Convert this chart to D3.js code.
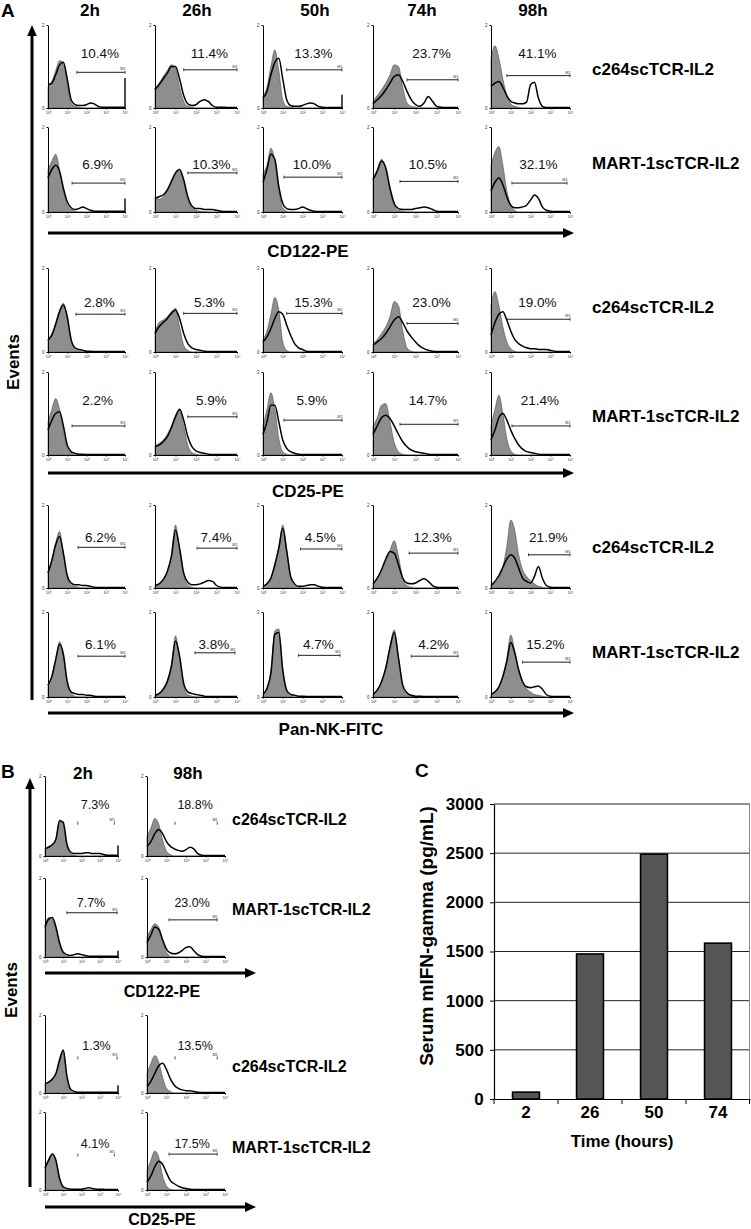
<!DOCTYPE html>
<html><head><meta charset="utf-8">
<script src="https://cdn.jsdelivr.net/npm/d3@7"></script>
<style>
body{margin:0;background:#fff;}
svg{display:block;font-family:"Liberation Sans",Arial,Helvetica,sans-serif;}
</style></head><body>
<svg id="fig" width="751" height="1229"></svg>
<script>
// ---------------- DATA ----------------
const timepointsA = ["2h","26h","50h","74h","98h"];
const timepointsB = ["2h","98h"];
const constructsA = ["c264scTCR-IL2","MART-1scTCR-IL2","c264scTCR-IL2","MART-1scTCR-IL2","c264scTCR-IL2","MART-1scTCR-IL2"];
const constructsB = ["c264scTCR-IL2","MART-1scTCR-IL2","c264scTCR-IL2","MART-1scTCR-IL2"];
const markersA = ["CD122-PE","CD25-PE","Pan-NK-FITC"];
const markersB = ["CD122-PE","CD25-PE"];
const logTickLabels = ["10\u2070","10\u00b9","10\u00b2","10\u00b3","10\u2074"];
const logTickValues = [0,1,2,3,4];
const binDecades = [0,0.2,0.4,0.6,0.8,1.0,1.2,1.4,1.6,1.8,2.0,2.2,2.4,2.6,2.8,3.0,3.2,3.4,3.6,3.8,4.0];
const yMaxLabel = "2";

const pctA = [
 ["10.4%","11.4%","13.3%","23.7%","41.1%"],
 ["6.9%","10.3%","10.0%","10.5%","32.1%"],
 ["2.8%","5.3%","15.3%","23.0%","19.0%"],
 ["2.2%","5.9%","5.9%","14.7%","21.4%"],
 ["6.2%","7.4%","4.5%","12.3%","21.9%"],
 ["6.1%","3.8%","4.7%","4.2%","15.2%"]];
const gateStartA = [
 [1.5,1.4,1.2,1.6,0.8],[1.25,1.6,1.06,1.27,1.06],[1.45,1.4,1.2,1.6,0.8],
 [1.25,1.6,1.06,1.27,1.06],[1.56,2.05,1.9,1.7,1.9],[1.56,1.95,1.8,1.8,1.6]];
const gateEndA = [
 [4,4,4,4,4],[4,4,4,4,3.85],[4,4,4,4,4],[4,4,4,4,4],[4,4,4,4,4],[4,3.9,3.9,4,4]];
const gateLevelA = [
 [43,46,46,34,39],[34,46,41,36,34],[45,46,46,34,39],
 [35,46,42,37,35],[49,48,47,42,40],[48,52,49,48,41]];
const spikeA = [[36,0,16,0,0],[16,0,0,0,0],[0,0,0,0,0],[0,0,0,0,0],[0,0,0,0,0],[0,0,0,0,0]];

// control (grey, filled) histograms, % of axis height per bin
const grayA = [
 [[25,32,45,57,55,30,6,2,1,0,0,0,0,0,0,0,0,0,0,0,0],
  [24,30,38,45,52,48,25,8,2,1,0,0,0,0,0,0,0,0,0,0,0],
  [14,25,50,70,45,10,2,1,0,0,0,0,0,0,0,0,0,0,0,0,0],
  [8,15,22,30,40,52,50,25,6,2,1,0,0,0,0,0,0,0,0,0,0],
  [60,75,60,35,15,5,2,1,0,0,0,0,0,0,0,0,0,0,0,0,0]],
 [[50,60,68,50,25,8,3,1,0,0,0,0,0,0,0,0,0,0,0,0,0],
  [18,15,18,25,35,45,48,35,15,5,2,1,0.5,0,0,0,0,0,0,0,0],
  [45,55,75,60,25,5,1,0,0,0,0,0,0,0,0,0,0,0,0,0,0],
  [40,50,62,50,25,8,2,1,0,0,0,0,0,0,0,0,0,0,0,0,0],
  [55,70,77,55,25,8,2,0,0,0,0,0,0,0,0,0,0,0,0,0,0]],
 [[15,22,35,50,58,40,12,3,1,0,0,0,0,0,0,0,0,0,0,0,0],
  [25,35,38,42,48,52,30,8,2,0,0,0,0,0,0,0,0,0,0,0,0],
  [15,25,45,65,50,12,2,0,0,0,0,0,0,0,0,0,0,0,0,0,0],
  [10,15,22,30,42,60,55,25,5,1,0,0,0,0,0,0,0,0,0,0,0],
  [55,72,55,30,12,4,1,0,0,0,0,0,0,0,0,0,0,0,0,0,0]],
 [[40,55,68,55,30,8,2,0,0,0,0,0,0,0,0,0,0,0,0,0,0],
  [12,14,18,25,35,48,55,35,12,3,1,0,0,0,0,0,0,0,0,0,0],
  [35,55,75,55,20,4,1,0,0,0,0,0,0,0,0,0,0,0,0,0,0],
  [35,45,60,62,40,15,4,1,0,0,0,0,0,0,0,0,0,0,0,0,0],
  [35,55,72,50,20,5,1,0,0,0,0,0,0,0,0,0,0,0,0,0,0]],
 [[20,35,55,68,40,12,4,2,1,0,0,0,0,0,0,0,0,0,0,0,0],
  [3,5,10,20,40,76,45,15,4,1,0,0,0,0,0,0,0,0,0,0,0],
  [2,5,12,28,50,76,45,12,3,1,0,0,0,0,0,0,0,0,0,0,0],
  [5,10,20,32,45,57,38,12,3,1,0,0,0,0,0,0,0,0,0,0,0],
  [3,6,12,25,50,82,70,40,22,14,9,5,2,1,0,0,0,0,0,0,0]],
 [[15,25,45,65,50,15,4,1,0,0,0,0,0,0,0,0,0,0,0,0,0],
  [2,4,10,20,38,72,45,12,3,1,0,0,0,0,0,0,0,0,0,0,0],
  [3,10,30,78,80,30,6,1,0,0,0,0,0,0,0,0,0,0,0,0,0],
  [3,8,18,35,60,79,45,12,3,1,0,0,0,0,0,0,0,0,0,0,0],
  [3,6,12,25,45,73,55,32,18,10,6,3,2,1,0,0,0,0,0,0,0]]];

// treated (black line) histograms
const blackA = [
 [[28,30,40,52,55,35,10,4,3,3,4,6,5,2,1,1,1,1,1,1,1],
  [22,28,35,42,50,50,35,15,5,3,4,8,10,8,3,1,1,1,0.5,0.5,0.5],
  [12,20,40,55,60,35,10,3,2,2,3,5,6,5,2,1,0.5,0.5,0.5,0.5,0.5],
  [5,10,15,22,30,38,40,32,20,10,4,2,6,14,8,2,1,0.5,0.5,0.5,0.5],
  [26,30,32,25,15,8,6,5,5,7,28,31,12,2,0.5,0.5,0.5,0.5,0.5,0.5,0.5]],
 [[40,50,55,48,28,12,5,3,4,6,4,2,1,1,1,1,1,1,1,1,1],
  [16,18,20,26,36,46,50,38,18,7,4,4,3,3,3,2,1,0.5,0.5,0.5,0.5],
  [35,50,68,62,30,10,4,3,3,4,6,4,2,1,0.5,0.5,0.5,0.5,0.5,0.5,0.5],
  [38,48,60,52,28,10,4,3,3,3,4,5,6,5,3,1,0.5,0.5,0.5,0.5,0.5],
  [25,35,40,32,18,8,5,5,6,8,14,20,16,6,2,1,0.5,0.5,0.5,0.5,0.5]],
 [[14,20,33,48,56,42,15,5,3,2,1,1,0.5,0.5,0.5,0.5,0.5,0.5,0.5,0.5,0.5],
  [22,30,35,40,46,50,40,22,10,5,3,2,1,0.5,0.5,0.5,0.5,0.5,0.5,0.5,0.5],
  [12,18,28,40,48,45,32,20,10,5,3,1,0.5,0.5,0.5,0.5,0.5,0.5,0.5,0.5,0.5],
  [8,12,16,22,30,38,42,35,25,18,12,7,4,2,1,0.5,0.5,0.5,0.5,0.5,0.5],
  [20,35,45,48,38,25,15,10,7,5,4,4,3,3,3,2,1,0.5,0.5,0.5,0.5]],
 [[30,42,50,52,35,12,4,2,1,1,0.5,0.5,0.5,0.5,0.5,0.5,0.5,0.5,0.5,0.5,0.5],
  [10,12,16,22,33,46,55,42,22,10,5,3,2,1,0.5,0.5,0.5,0.5,0.5,0.5,0.5],
  [25,40,60,60,40,18,8,4,2,1,0.5,0.5,0.5,0.5,0.5,0.5,0.5,0.5,0.5,0.5,0.5],
  [25,35,45,48,44,35,25,16,10,6,4,3,2,1,0.5,0.5,0.5,0.5,0.5,0.5,0.5],
  [18,30,45,50,42,30,20,12,7,4,3,2,1,0.5,0.5,0.5,0.5,0.5,0.5,0.5,0.5]],
 [[18,33,52,62,42,15,6,4,4,3,3,2,1,0.5,0.5,0.5,0.5,0.5,0.5,0.5,0.5],
  [3,5,10,20,38,70,48,18,7,4,4,5,7,9,8,3,1,0.5,0.5,0.5,0.5],
  [2,5,12,28,48,72,45,14,5,2,2,3,4,4,2,1,0.5,0.5,0.5,0.5,0.5],
  [5,12,22,35,44,42,28,12,6,5,6,9,11,8,3,1,0.5,0.5,0.5,0.5,0.5],
  [3,8,15,25,35,40,36,24,12,8,6,14,26,12,3,1,0.5,0.5,0.5,0.5,0.5]],
 [[14,24,44,62,50,18,6,4,3,3,2,2,1,0.5,0.5,0.5,0.5,0.5,0.5,0.5,0.5],
  [2,4,9,18,36,66,48,16,6,4,3,2,1,0.5,0.5,0.5,0.5,0.5,0.5,0.5,0.5],
  [3,10,28,74,76,32,8,3,2,1,1,0.5,0.5,0.5,0.5,0.5,0.5,0.5,0.5,0.5,0.5],
  [3,8,18,34,58,76,46,14,5,2,1,1,0.5,0.5,0.5,0.5,0.5,0.5,0.5,0.5,0.5],
  [3,6,12,24,42,64,52,32,18,12,11,12,13,9,3,1,0.5,0.5,0.5,0.5,0.5]]];

// Panel B
const pctB = [["7.3%","18.8%"],["7.7%","23.0%"],["1.3%","13.5%"],["4.1%","17.5%"]];
const gateStartB = [[1.8,1.44],[1.2,1.13],[1.8,1.44],[1.8,1.13]];
const gateEndB = [[3.8,3.6],[3.95,3.6],[3.95,3.6],[3.8,3.6]];
const gateLevelB = [[41,41],[56,47],[45,45],[45,46]];
const gateShownB = [[0,0],[1,1],[0,0],[0,1]];
const spikeB = [[13,0],[8,0],[10,0],[0,0]];
const grayB = [
 [[10,12,15,22,45,40,12,3,1,0,0,0,0,0,0,0,0,0,0,0,0],
  [25,35,47,40,20,6,2,0,0,0,0,0,0,0,0,0,0,0,0,0,0]],
 [[40,50,48,35,15,4,1,0,0,0,0,0,0,0,0,0,0,0,0,0,0],
  [25,35,42,38,20,6,1,0,0,0,0,0,0,0,0,0,0,0,0,0,0]],
 [[12,14,18,26,45,55,18,3,0,0,0,0,0,0,0,0,0,0,0,0,0],
  [25,38,48,40,20,6,2,0,0,0,0,0,0,0,0,0,0,0,0,0,0]],
 [[30,40,46,35,12,2,0,0,0,0,0,0,0,0,0,0,0,0,0,0,0],
  [25,38,50,42,18,5,1,0,0,0,0,0,0,0,0,0,0,0,0,0,0]]];
const blackB = [
 [[9,11,14,21,44,42,15,5,3,3,3,4,4,3,3,3,2,1,1,1,1],
  [12,18,28,33,28,18,12,9,7,6,8,11,9,3,1,0.5,0.5,0.5,0.5,0.5,0.5]],
 [[38,48,50,38,18,6,3,2,3,4,3,2,1,1,1,1,1,1,1,1,1],
  [18,28,38,35,22,10,5,4,5,8,12,13,8,3,1,0.5,0.5,0.5,0.5,0.5,0.5]],
 [[12,14,18,25,42,55,22,5,2,1,1,1,1,1,1,1,1,1,1,1,1],
  [8,15,25,35,38,30,18,10,6,4,3,3,2,1,0.5,0.5,0.5,0.5,0.5,0.5,0.5]],
 [[28,38,46,38,15,4,2,1,1,1,1,2,3,2,1,1,1,0.5,0.5,0.5,0.5],
  [10,18,30,37,33,22,12,8,5,3,2,1,0.5,0.5,0.5,0.5,0.5,0.5,0.5,0.5,0.5]]];

// Panel C
const hoursC = ["2","26","50","74"];
const ifnC = [70,1475,2490,1585];
const yTicksC = [0,500,1000,1500,2000,2500,3000];

// ---------------- LAYOUT ----------------
const LA = {colX:[48,155,263,373,491], colW:[77,82,79,85,79],
  rowTop:[25,127,268,372,505,612], rowH:[83,85,84,83,83,85],
  labelLevel:[60,51,54,60,55,57], headerX:[90,197,315,422,533], headerY:16,
  rowLabelX:592, rowLabelY:[75,169,313,422,553,658],
  arrowY:[233,473,713], arrowX:[48,574], markerLabel:[[308,257],[308,497],[331,735]],
  vArrowX:32, vArrowY:[700,25], eventsX:19, eventsY:362};
const LB = {colX:[45,147], colW:[73,78], rowTop:[776,878,1015,1112], rowH:[80,79,78,78],
  labelLevel:[59,63,55,54], headerX:[83,188], headerY:779,
  rowLabelX:232, rowLabelY:[825,915,1072,1153],
  arrowY:[973,1207], arrowX:[45,256], markerLabel:[[162,997],[162,1225]],
  vArrowX:30, vArrowY:[1187,778], eventsX:17, eventsY:990};
const LC = {left:494, right:750, top:804, bottom:1099};

const svg = d3.select("#fig");

function arrow(g, x1, y1, x2, y2, headLen, headHalf, w) {
  const dx = x2 - x1, dy = y2 - y1, len = Math.hypot(dx, dy), ux = dx/len, uy = dy/len;
  const bx = x2 - ux*headLen, by = y2 - uy*headLen;
  g.append("line").attr("x1", x1).attr("y1", y1).attr("x2", bx + ux).attr("y2", by + uy)
    .attr("stroke", "#000").attr("stroke-width", w);
  g.append("path").attr("d", `M${x2},${y2}L${bx - uy*headHalf},${by + ux*headHalf}L${bx + uy*headHalf},${by - ux*headHalf}Z`)
    .attr("fill", "#000");
}

function histogram(g, x0, top, W, H, gray, black, spike, gs, ge, gl, showGate, pct, labelLevel, pctSize) {
  const x = d3.scaleLinear().domain([0,4]).range([x0, x0 + W]);
  const y = d3.scaleLinear().domain([0,100]).range([top + H, top]);
  const pts = arr => arr.map((v, i) => [binDecades[i], v]);
  const area = d3.area().x(d => x(d[0])).y0(y(0)).y1(d => y(d[1])).curve(d3.curveMonotoneX);
  const line = d3.line().x(d => x(d[0])).y(d => y(d[1])).curve(d3.curveMonotoneX);
  g.append("path").datum(pts(gray)).attr("d", area).attr("fill", "#8e8e8e").attr("stroke", "#4a4a4a").attr("stroke-width", 0.6);
  g.append("path").datum(pts(black)).attr("d", line).attr("fill", "none").attr("stroke", "#000").attr("stroke-width", 1.5);
  if (spike) g.append("line").attr("x1", x(4)).attr("x2", x(4)).attr("y1", y(0)).attr("y2", y(spike))
    .attr("stroke", "#000").attr("stroke-width", 1.4);
  const xa = d3.axisBottom(x).tickValues(logTickValues).tickSize(1.5).tickSizeOuter(0)
    .tickFormat((d, i) => logTickLabels[i]);
  g.append("g").attr("transform", `translate(0,${top + H})`).call(xa)
    .call(s => { s.selectAll("text").attr("font-size", 4).attr("dy", "0.3em").attr("fill", "#333");
      s.select(".domain").attr("stroke-width", 1); });
  const ya = d3.axisLeft(y).tickValues([0,100]).tickSize(1.5).tickSizeOuter(0)
    .tickFormat(d => d ? yMaxLabel : "0");
  g.append("g").attr("transform", `translate(${x0},0)`).call(ya)
    .call(s => { s.selectAll("text").attr("font-size", 4.5).attr("dx", "0.2em").attr("fill", "#333");
      s.select(".domain").attr("stroke-width", 1); });
  // gate marker
  const gy = y(gl), gx1 = x(gs), gx2 = x(ge);
  if (showGate) g.append("line").attr("x1", gx1).attr("x2", gx2).attr("y1", gy).attr("y2", gy)
    .attr("stroke", "#222").attr("stroke-width", 1);
  [gx1, gx2].forEach(xx => g.append("line").attr("x1", xx).attr("x2", xx).attr("y1", gy - 1.5).attr("y2", gy + 1.5)
    .attr("stroke", "#222").attr("stroke-width", 0.8));
  g.append("text").attr("x", gx2 + 0.5).attr("y", gy - 2).attr("text-anchor", "end")
    .attr("font-size", 3.8).attr("fill", "#333").text("M1");
  g.append("text").attr("x", (gx1 + gx2)/2 - 1).attr("y", y(labelLevel)).attr("text-anchor", "middle")
    .attr("font-size", pctSize).attr("fill", "#111").text(pct);
}

// ---------- Panel A ----------
const gA = svg.append("g");
gA.append("text").attr("x", 1).attr("y", 17).attr("font-size", 19).attr("font-weight", "bold").text("A");
timepointsA.forEach((t, i) => gA.append("text").attr("x", LA.headerX[i]).attr("y", LA.headerY)
  .attr("text-anchor", "middle").attr("font-size", 17).attr("font-weight", "bold").text(t));
arrow(gA, LA.vArrowX, LA.vArrowY[0], LA.vArrowX, LA.vArrowY[1], 11, 4.8, 3);
gA.append("text").attr("transform", `translate(${LA.eventsX},${LA.eventsY}) rotate(-90)`)
  .attr("text-anchor", "middle").attr("font-size", 17).attr("font-weight", "bold").text("Events");
for (let r = 0; r < 6; r++) {
  for (let c = 0; c < 5; c++) {
    histogram(gA, LA.colX[c], LA.rowTop[r], LA.colW[c], LA.rowH[r], grayA[r][c], blackA[r][c], spikeA[r][c],
      gateStartA[r][c], gateEndA[r][c], gateLevelA[r][c], true, pctA[r][c], LA.labelLevel[r], 13.5);
  }
  gA.append("text").attr("x", LA.rowLabelX).attr("y", LA.rowLabelY[r]).attr("font-size", 17)
    .attr("font-weight", "bold").text(constructsA[r]);
}
markersA.forEach((m, i) => {
  arrow(gA, LA.arrowX[0], LA.arrowY[i], LA.arrowX[1], LA.arrowY[i], 11, 5, 3);
  gA.append("text").attr("x", LA.markerLabel[i][0]).attr("y", LA.markerLabel[i][1]).attr("text-anchor", "middle")
    .attr("font-size", 17).attr("font-weight", "bold").text(m);
});

// ---------- Panel B ----------
const gB = svg.append("g");
gB.append("text").attr("x", 1).attr("y", 778).attr("font-size", 19).attr("font-weight", "bold").text("B");
timepointsB.forEach((t, i) => gB.append("text").attr("x", LB.headerX[i]).attr("y", LB.headerY)
  .attr("text-anchor", "middle").attr("font-size", 17).attr("font-weight", "bold").text(t));
arrow(gB, LB.vArrowX, LB.vArrowY[0], LB.vArrowX, LB.vArrowY[1], 11, 4.8, 3);
gB.append("text").attr("transform", `translate(${LB.eventsX},${LB.eventsY}) rotate(-90)`)
  .attr("text-anchor", "middle").attr("font-size", 17).attr("font-weight", "bold").text("Events");
for (let r = 0; r < 4; r++) {
  for (let c = 0; c < 2; c++) {
    histogram(gB, LB.colX[c], LB.rowTop[r], LB.colW[c], LB.rowH[r], grayB[r][c], blackB[r][c], spikeB[r][c],
      gateStartB[r][c], gateEndB[r][c], gateLevelB[r][c], gateShownB[r][c], pctB[r][c], LB.labelLevel[r], 12.5);
  }
  gB.append("text").attr("x", LB.rowLabelX).attr("y", LB.rowLabelY[r]).attr("font-size", 16)
    .attr("font-weight", "bold").text(constructsB[r]);
}
markersB.forEach((m, i) => {
  arrow(gB, LB.arrowX[0], LB.arrowY[i], LB.arrowX[1], LB.arrowY[i], 11, 5, 3);
  gB.append("text").attr("x", LB.markerLabel[i][0]).attr("y", LB.markerLabel[i][1]).attr("text-anchor", "middle")
    .attr("font-size", 16).attr("font-weight", "bold").text(m);
});

// ---------- Panel C ----------
const gC = svg.append("g");
gC.append("text").attr("x", 415).attr("y", 777).attr("font-size", 19).attr("font-weight", "bold").text("C");
const xC = d3.scaleBand().domain(hoursC).range([LC.left, LC.right]);
const yC = d3.scaleLinear().domain([0, 3000]).range([LC.bottom, LC.top]);
gC.selectAll("line.grid").data(yTicksC.slice(1)).join("line").attr("class", "grid")
  .attr("x1", LC.left).attr("x2", LC.right).attr("y1", d => yC(d)).attr("y2", d => yC(d))
  .attr("stroke", "#222").attr("stroke-width", 1);
gC.append("line").attr("x1", LC.right - 0.5).attr("x2", LC.right - 0.5).attr("y1", LC.top).attr("y2", LC.bottom)
  .attr("stroke", "#888").attr("stroke-width", 1);
gC.selectAll("rect.bar").data(ifnC).join("rect").attr("class", "bar")
  .attr("x", (d, i) => xC(hoursC[i]) + xC.bandwidth()*0.29)
  .attr("width", xC.bandwidth()*0.42)
  .attr("y", d => yC(d)).attr("height", d => yC(0) - yC(d))
  .attr("fill", "#555").attr("stroke", "#000").attr("stroke-width", 1.6);
const yAxC = d3.axisLeft(yC).tickValues(yTicksC).tickSize(4).tickSizeOuter(0).tickFormat(d3.format("d"));
gC.append("g").attr("transform", `translate(${LC.left},0)`).call(yAxC)
  .call(s => { s.selectAll("text").attr("font-size", 17).attr("font-weight", "bold").attr("fill", "#000")
      .attr("font-family", '"Liberation Sans",Arial,sans-serif').attr("dx", "-0.2em");
    s.select(".domain").attr("stroke-width", 1.2); });
const xAxC = d3.axisBottom(xC).tickSize(0).tickSizeOuter(0);
gC.append("g").attr("transform", `translate(0,${LC.bottom})`).call(xAxC)
  .call(s => { s.selectAll("text").attr("font-size", 17).attr("font-weight", "bold").attr("fill", "#000")
      .attr("font-family", '"Liberation Sans",Arial,sans-serif').attr("dy", "0.95em");
    s.select(".domain").attr("stroke-width", 1.2); });
const bounds = hoursC.map(h => xC(h)).concat([LC.right - 0.5]);
gC.selectAll("line.xt").data(bounds).join("line").attr("class", "xt")
  .attr("x1", d => d).attr("x2", d => d).attr("y1", LC.bottom).attr("y2", LC.bottom + 5)
  .attr("stroke", "#000").attr("stroke-width", 1);
gC.append("text").attr("x", (LC.left + LC.right)/2).attr("y", 1147).attr("text-anchor", "middle")
  .attr("font-size", 17).attr("font-weight", "bold").text("Time (hours)");
gC.append("text").attr("transform", `translate(433,936) rotate(-90)`)
  .attr("text-anchor", "middle").attr("font-size", 19).attr("font-weight", "bold").text("Serum mIFN-gamma (pg/mL)");
</script>
</body></html>
